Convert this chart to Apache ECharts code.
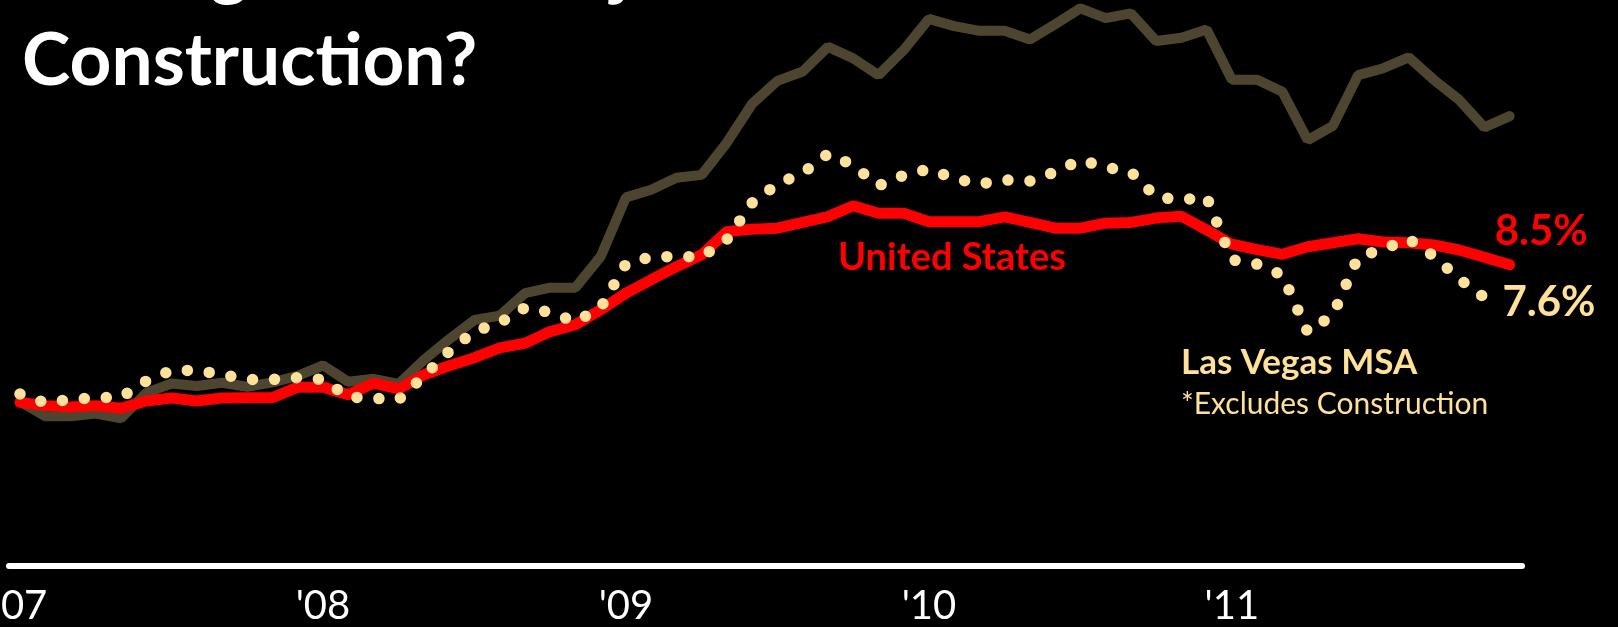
<!DOCTYPE html>
<html>
<head>
<meta charset="utf-8">
<script src="https://cdn.jsdelivr.net/npm/echarts@6/dist/echarts.min.js"></script>
<style>
  html, body { margin: 0; padding: 0; background: #000; }
  #chart { width: 1618px; height: 627px; }
</style>
</head>
<body>
<div id="chart"></div>
<script>
// Monthly observations, Jan 2007 - Dec 2011
const months = [];
for (let y = 2007; y <= 2011; y++) for (let m = 1; m <= 12; m++) months.push(y + '-' + String(m).padStart(2, '0'));

// Tick labels (one per January)
const tickLabels = ["'07", "'08", "'09", "'10", "'11"];

// United States unemployment rate (%)
const usRate = [4.71,4.62,4.58,4.62,4.55,4.75,4.83,4.75,4.83,4.84,
                4.84,5.13,5.13,4.92,5.24,5.08,5.47,5.72,5.94,6.21,
                6.34,6.66,6.85,7.26,7.72,8.09,8.45,8.78,9.42,9.48,
                9.51,9.67,9.83,10.13,9.92,9.92,9.69,9.69,9.69,9.82,
                9.67,9.51,9.51,9.65,9.67,9.79,9.84,9.46,9.07,8.92,
                8.79,9.00,9.11,9.22,9.13,9.11,9.05,8.91,8.71,8.50];

// Las Vegas MSA unemployment rate (%)
const lvTotal = [4.73,4.33,4.33,4.40,4.27,4.97,5.23,5.16,5.25,5.14,
                 5.26,5.44,5.73,5.28,5.36,5.22,5.88,6.45,6.98,7.10,
                 7.72,7.87,7.87,8.73,10.36,10.57,10.90,10.98,11.87,12.94,
                 13.57,13.83,14.51,14.19,13.73,14.42,15.28,15.08,14.95,14.95,
                 14.71,15.13,15.57,15.30,15.43,14.67,14.76,14.99,13.60,13.60,
                 13.27,11.94,12.33,13.73,13.92,14.22,13.60,13.05,12.29,12.60];

// Las Vegas MSA excluding construction (%), through Nov 2011
const lvExConstruction = [4.94,4.70,4.79,4.84,4.85,5.30,5.59,5.59,5.48,5.34,
                          5.34,5.39,5.34,4.86,4.82,4.79,5.44,6.12,6.67,6.90,
                          7.32,7.19,6.93,7.32,8.53,8.72,8.73,8.72,9.20,10.21,
                          10.73,11.03,11.56,11.25,10.68,10.97,11.14,10.88,10.73,10.84,
                          10.81,11.06,11.39,11.19,11.06,10.37,10.29,10.37,8.64,8.52,
                          8.22,6.65,7.12,8.72,8.94,9.21,8.74,8.11,7.60];

const toPairs = arr => arr.map((v, i) => [i, v]);

const RED = '#ff0000';
const CREAM = '#ffe19a';
const OLIVE = '#4d4530';
const FONT = 'Lato, "Open Sans", sans-serif';

const chart = echarts.init(document.getElementById('chart'), null, { renderer: 'canvas' });

chart.setOption({
  backgroundColor: '#000000',
  animation: false,
  grid: { left: 9, right: 96, top: 0, bottom: 61, containLabel: false, outerBoundsMode: 'none' },
  xAxis: {
    type: 'value',
    min: -0.436,
    max: 59.49,
    axisLine: { show: true, onZero: false, lineStyle: { color: '#ffffff', width: 6 } },
    axisTick: { show: false },
    splitLine: { show: false },
    axisLabel: {
      customValues: [0, 12, 24, 36, 48],
      formatter: v => tickLabels[Math.round(v / 12)],
      color: '#ffffff',
      fontFamily: FONT,
      fontSize: 40,
      margin: 20,
      hideOverlap: false
    }
  },
  yAxis: {
    type: 'value',
    min: 0.2,
    max: 15.8,
    show: false,
    splitLine: { show: false }
  },
  series: [
    {
      name: 'Las Vegas MSA',
      type: 'line',
      data: toPairs(lvTotal),
      showSymbol: false,
      clip: false,
      lineStyle: { color: OLIVE, width: 10, cap: 'round' },
      z: 1
    },
    {
      name: 'United States',
      type: 'line',
      data: toPairs(usRate),
      showSymbol: false,
      clip: false,
      lineStyle: { color: RED, width: 11, cap: 'round' },
      endLabel: {
        show: true,
        position: 'right',
        distance: 0,
        offset: [-15, -33],
        formatter: p => p.value[1].toFixed(1) + '%',
        color: RED,
        fontFamily: FONT,
        fontWeight: 'bold',
        fontSize: 42
      },
      z: 2
    },
    {
      name: 'Las Vegas MSA *Excludes Construction',
      type: 'line',
      data: toPairs(lvExConstruction),
      showSymbol: false,
      clip: false,
      lineStyle: { color: CREAM, width: 11.5, type: [0, 22], cap: 'round' },
      endLabel: {
        show: true,
        position: 'right',
        distance: 0,
        offset: [18, 5],
        formatter: p => p.value[1].toFixed(1) + '%',
        color: CREAM,
        fontFamily: FONT,
        fontWeight: 'bold',
        fontSize: 42
      },
      z: 3
    }
  ],
  graphic: [
    { type: 'text', x: 22, y: -33, z: 10,
      style: { text: 'Average When Adjusted for', fill: '#ffffff', fontFamily: FONT, fontWeight: 'bold', fontSize: 73, verticalAlign: 'middle' } },
    { type: 'text', x: 22, y: 61.5, z: 10,
      style: { text: 'Construction?', fill: '#ffffff', fontFamily: FONT, fontWeight: 'bold', fontSize: 73, verticalAlign: 'middle' } },
    { type: 'text', x: 838, y: 258, z: 10,
      style: { text: 'United States', fill: RED, fontFamily: FONT, fontWeight: 'bold', fontSize: 38, verticalAlign: 'middle' } },
    { type: 'text', x: 1181, y: 363, z: 10,
      style: { text: 'Las Vegas MSA', fill: CREAM, fontFamily: FONT, fontWeight: 'bold', fontSize: 35, verticalAlign: 'middle' } },
    { type: 'text', x: 1181, y: 404, z: 10,
      style: { text: '*Excludes Construction', fill: CREAM, fontFamily: FONT, fontSize: 30, verticalAlign: 'middle' } }
  ]
});
</script>
</body>
</html>
